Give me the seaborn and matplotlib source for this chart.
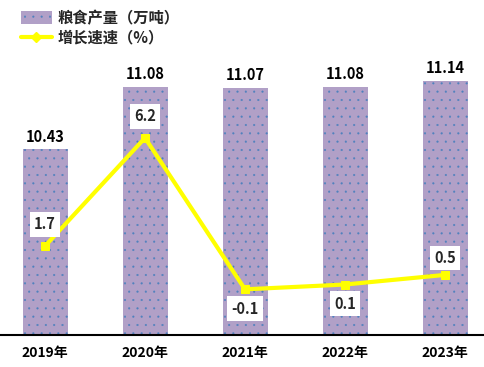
import matplotlib
matplotlib.use('Agg')
import matplotlib.pyplot as plt
import seaborn as sns
import pandas as pd
from matplotlib.patches import Patch
from matplotlib.lines import Line2D

# data
years = ['2019年', '2020年', '2021年', '2022年', '2023年']
grain_output = [10.43, 11.08, 11.07, 11.08, 11.14]
growth_rate = [1.7, 6.2, -0.1, 0.1, 0.5]
bar_name = '粮食产量（万吨）'
line_name = '增长速速（%）'

sns.set_theme(style='white')
plt.rcParams['font.family'] = ['Noto Sans CJK SC', 'DejaVu Sans']
plt.rcParams['hatch.linewidth'] = 0.3

bar_color = '#B1A0C7'
dot_color = '#4F81BD'
line_color = '#FFFF00'

df = pd.DataFrame({'year': years, 'output': grain_output, 'growth': growth_rate})

fig = plt.figure(figsize=(4.84, 3.67), dpi=100)
ax = fig.add_axes([0.0, 0.0872, 1.0, 0.786])

sns.barplot(data=df, x='year', y='output', color=bar_color, width=0.45,
            saturation=1, ax=ax)
for p in ax.patches:
    p.set_hatch('..')
    p.set_edgecolor(dot_color)
    p.set_linewidth(0)

ax.set_ylim(8.5, 11.5)
ax.set_xlim(-0.45, 4.39)
ax.set_xlabel('')
ax.set_ylabel('')
ax.set_yticks([])
for s in ['top', 'left', 'right']:
    ax.spines[s].set_visible(False)
ax.spines['bottom'].set_color('black')
ax.spines['bottom'].set_linewidth(1.5)
ax.tick_params(axis='x', length=0, pad=8)
for t in ax.get_xticklabels():
    t.set_fontweight('bold')
    t.set_fontsize(10)
    t.set_color('black')

for i, v in enumerate(grain_output):
    ax.text(i, v + 0.05, f'{v:.2f}', ha='center', va='bottom',
            fontsize=10.5, fontweight='bold', color='black')

ax2 = ax.twinx()
sns.lineplot(x=list(range(len(years))), y=growth_rate, ax=ax2, color=line_color,
             linewidth=3, marker='s', markersize=6, markeredgecolor=line_color)
ax2.set_ylim(-2, 10)
ax2.set_yticks([])
for s in ['top', 'left', 'right', 'bottom']:
    ax2.spines[s].set_visible(False)

offsets = [0.9, 0.9, -0.8, -0.8, 0.7]
for i, v in enumerate(growth_rate):
    ax2.text(i, v + offsets[i], f'{v}', ha='center', va='center',
             fontsize=10.5, fontweight='bold', color='#262626',
             bbox=dict(boxstyle='square,pad=0.3', facecolor='white', edgecolor='none'))

handles = [
    Patch(facecolor=bar_color, edgecolor=dot_color, hatch='..', linewidth=0),
    Line2D([0], [0], color=line_color, linewidth=3, marker='D', markersize=5),
]
leg = ax2.legend(handles, [bar_name, line_name], loc='upper left',
                 bbox_to_anchor=(0.015, 1.175), frameon=False, handlelength=2.0,
                 handletextpad=0.4, handleheight=0.9,
                 prop={'weight': 'bold', 'size': 11}, labelspacing=0.25)

fig.savefig('out.png', dpi=100)
